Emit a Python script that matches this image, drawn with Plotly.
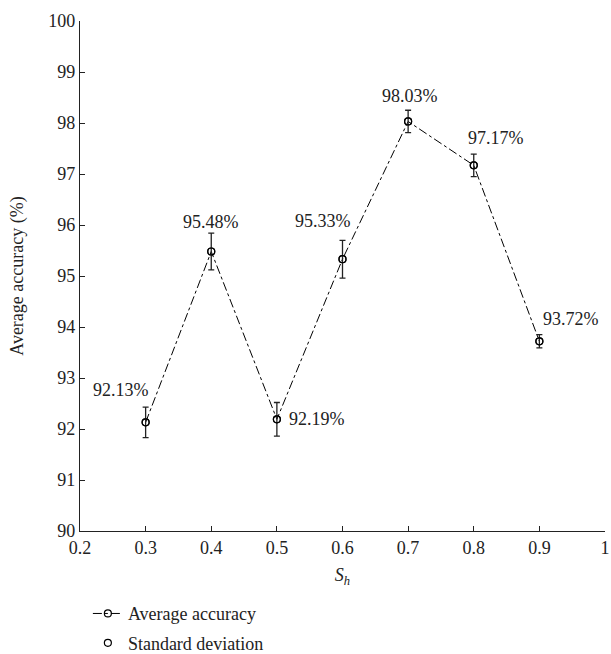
import plotly.graph_objects as go

# Data
sh = [0.3, 0.4, 0.5, 0.6, 0.7, 0.8, 0.9]
accuracy = [92.13, 95.48, 92.19, 95.33, 98.03, 97.17, 93.72]
std_dev = [0.30, 0.36, 0.33, 0.37, 0.22, 0.22, 0.13]
labels = ["92.13%", "95.48%", "92.19%", "95.33%", "98.03%", "97.17%", "93.72%"]
x_ticks = [0.2, 0.3, 0.4, 0.5, 0.6, 0.7, 0.8, 0.9, 1.0]
x_ticktext = ["0.2", "0.3", "0.4", "0.5", "0.6", "0.7", "0.8", "0.9", "1"]
y_ticks = [90, 91, 92, 93, 94, 95, 96, 97, 98, 99, 100]

# label placement (pixel offsets, anchors)
lab_xshift = [-25, 0, 10, -20, 2, 22, 2]
lab_yshift = [32, 30, 0, 38, 25, 27, 22]
lab_xanchor = ["center", "center", "left", "center", "center", "center", "left"]

FONT = "Liberation Serif"
FS = 18

fig = go.Figure()

fig.add_trace(go.Scatter(
    x=sh, y=accuracy, mode="lines+markers", name="Average accuracy",
    legendgroup="a",
    line=dict(color="black", width=1, dash="dashdot"),
    marker=dict(symbol="circle-open", size=7, color="black", line=dict(width=1.2)),
))
fig.add_trace(go.Scatter(
    x=sh, y=accuracy, mode="markers", name="Standard deviation",
    legendgroup="b",
    marker=dict(symbol="circle-open", size=7, color="black", line=dict(width=1.2)),
    error_y=dict(type="data", array=std_dev, visible=True, color="#222",
                 thickness=1.3, width=3),
))

for xi, yi, t, dx, dy, xa in zip(sh, accuracy, labels, lab_xshift, lab_yshift, lab_xanchor):
    fig.add_annotation(x=xi, y=yi, text=t, showarrow=False, xshift=dx, yshift=dy,
                       xanchor=xa, yanchor="middle",
                       font=dict(family=FONT, size=FS, color="#222"))

fig.update_layout(
    width=611, height=654,
    margin=dict(l=80, r=6, t=21, b=123, autoexpand=False),
    paper_bgcolor="white", plot_bgcolor="white",
    font=dict(family=FONT, size=FS, color="#222"),
    showlegend=True,
    legend=dict(x=0.015, y=-0.126, xanchor="left", yanchor="top",
                orientation="v", font=dict(family=FONT, size=FS, color="#222"),
                tracegroupgap=3, bgcolor="rgba(0,0,0,0)"),
)

fig.update_xaxes(
    range=[0.2, 1.0], tickvals=x_ticks, ticktext=x_ticktext,
    showline=True, linecolor="#222", linewidth=1.2, mirror=False,
    ticks="inside", ticklen=5, tickcolor="#222", showgrid=False, zeroline=False,
    tickfont=dict(family=FONT, size=FS, color="#222"),
    title=dict(text="<i>S</i><sub><i>h</i></sub>", font=dict(family=FONT, size=FS, color="#222"),
               standoff=11),
)
fig.update_yaxes(
    range=[90, 100], tickvals=y_ticks,
    showline=True, linecolor="#222", linewidth=1.2, mirror=False,
    ticks="inside", ticklen=5, tickcolor="#222", showgrid=False, zeroline=False,
    tickfont=dict(family=FONT, size=FS, color="#222"),
    title=dict(text="Average accuracy (%)", font=dict(family=FONT, size=FS, color="#222"),
               standoff=19),
)

fig.write_html("out.html")
